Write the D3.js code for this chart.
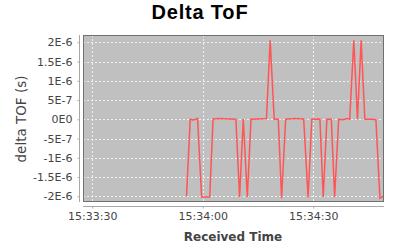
<!DOCTYPE html>
<html>
<head>
<meta charset="utf-8">
<script src="https://cdn.jsdelivr.net/npm/d3@7"></script>
<style>
  body { margin: 0; background: #fff; }
  svg { display: block; }
</style>
</head>
<body>
<svg width="396" height="252"></svg>
<script>
// seconds after 15:34:00 for each sample
const sampleSeconds = [-4.4, -3.4, -2.6, -1.4, -0.3, 1.9, 2.8, 5, 7, 9.0, 10.0, 11.0, 12.1, 13.1, 15, 17.3, 18.3, 19.4, 20.5, 21.4,
    22.5, 25, 27.4, 28.6, 29.6, 31.8, 32.7, 33.7, 34.9, 35.8, 36.9, 37.9, 39.2, 39.9, 41.0, 42.0, 43.0, 44.0, 46, 47.0, 48.1, 49.0];
// delta TOF in seconds
const deltaTof = [-2.0e-6, 0.0, -0.02e-6, 0.02e-6, -2.02e-6, -2.02e-6, 0.01e-6, 0.02e-6, 0.01e-6, 0.0, -2.02e-6, 0.01e-6, -2.02e-6, 0.0, 0.01e-6,
    0.02e-6, 2.05e-6, 0.0, 0.0, -2.05e-6, 0.0, 0.02e-6, 0.01e-6, -2.03e-6, 0.0, 0.01e-6, -2.02e-6, 0.0, 0.0, -2.02e-6,
    0.0, -0.01e-6, 0.02e-6, 0.0, 2.05e-6, 0.0, 2.05e-6, 0.0, 0.0, -0.01e-6, -2.05e-6, -2.0e-6];
const yTickValues = [2e-6, 1.5e-6, 1e-6, 5e-7, 0, -5e-7, -1e-6, -1.5e-6, -2e-6];
const yTickLabels = ["2E-6", "1.5E-6", "1E-6", "5E-7", "0E0", "-5E-7", "-1E-6", "-1.5E-6", "-2E-6"];
const xTickLabels = ["15:33:30", "15:34:00", "15:34:30"];

const base = new Date(2020, 0, 1, 15, 34, 0);
const parseTime = d3.timeParse("%H:%M:%S");
const toDate = (hms) => {
    const t = parseTime(hms);
    return new Date(2020, 0, 1, t.getHours(), t.getMinutes(), t.getSeconds());
};
const data = sampleSeconds.map((s, i) => ({
    time: new Date(base.getTime() + s * 1000),
    value: deltaTof[i],
}));

const plot = { left: 83, right: 384, top: 35, bottom: 202 };
const svg = d3.select("svg");

const x = d3.scaleTime()
    .domain([new Date(base.getTime() - 32500), new Date(base.getTime() + 49200)])
    .range([plot.left, plot.right]);
const y = d3.scaleLinear()
    .domain([-2.148e-6, 2.19e-6])
    .range([plot.bottom, plot.top]);

// title
svg.append("text")
    .attr("x", 200)
    .attr("y", 19)
    .attr("text-anchor", "middle")
    .style("font-family", "'Liberation Sans', Arial, sans-serif")
    .style("font-weight", "bold")
    .style("font-size", "20px")
    .style("letter-spacing", "0.8px")
    .attr("fill", "#000")
    .text("Delta ToF");

// plot background
svg.append("rect")
    .attr("x", plot.left)
    .attr("y", plot.top)
    .attr("width", plot.right - plot.left)
    .attr("height", plot.bottom - plot.top)
    .attr("fill", "#c0c0c0");

// gridlines
const grid = svg.append("g")
    .attr("stroke", "#ffffff")
    .attr("stroke-opacity", 0.75)
    .attr("stroke-dasharray", "2,2");
grid.selectAll(".hgrid")
    .data(yTickValues)
    .join("line")
    .attr("x1", plot.left)
    .attr("x2", plot.right)
    .attr("y1", (d) => Math.round(y(d)) + 0.5)
    .attr("y2", (d) => Math.round(y(d)) + 0.5);
grid.selectAll(".vgrid")
    .data(xTickLabels.map(toDate))
    .join("line")
    .attr("x1", (d) => Math.round(x(d)) + 0.5)
    .attr("x2", (d) => Math.round(x(d)) + 0.5)
    .attr("y1", plot.top)
    .attr("y2", plot.bottom);

// series line
svg.append("clipPath")
    .attr("id", "clip")
    .append("rect")
    .attr("x", plot.left)
    .attr("y", plot.top)
    .attr("width", plot.right - plot.left)
    .attr("height", plot.bottom - plot.top);
const line = d3.line()
    .x((d) => x(d.time))
    .y((d) => y(d.value));
svg.append("path")
    .datum(data)
    .attr("clip-path", "url(#clip)")
    .attr("fill", "none")
    .attr("stroke", "#ff5555")
    .attr("stroke-width", 1.5)
    .attr("stroke-linejoin", "miter")
    .attr("d", line);

// plot border
svg.append("rect")
    .attr("x", plot.left + 0.5)
    .attr("y", plot.top + 0.5)
    .attr("width", plot.right - plot.left - 1)
    .attr("height", plot.bottom - plot.top - 1)
    .attr("fill", "none")
    .attr("stroke", "#707070");

// y axis
const yAxis = d3.axisLeft(y)
    .tickValues(yTickValues)
    .tickFormat((d, i) => yTickLabels[i])
    .tickSizeInner(2)
    .tickSizeOuter(0)
    .tickPadding(5);
const gy = svg.append("g")
    .attr("transform", "translate(79.5,0)")
    .call(yAxis);
gy.select(".domain").attr("stroke", "#a8a8a8").attr("d", `M0,${plot.top}V${plot.bottom}`);
gy.selectAll(".tick line").attr("stroke", "#a8a8a8");
gy.selectAll(".tick text")
    .attr("fill", "#444")
    .style("font-family", "'DejaVu Sans', sans-serif")
    .style("font-size", "11px");

// x axis
const xAxis = d3.axisBottom(x)
    .tickValues(xTickLabels.map(toDate))
    .tickFormat(d3.timeFormat("%H:%M:%S"))
    .tickSizeInner(2)
    .tickSizeOuter(0)
    .tickPadding(4);
const gx = svg.append("g")
    .attr("transform", "translate(0,206.5)")
    .call(xAxis);
gx.select(".domain").attr("stroke", "#a8a8a8").attr("d", `M${plot.left},0H${plot.right}`);
gx.selectAll(".tick line").attr("stroke", "#a8a8a8");
gx.selectAll(".tick text")
    .attr("fill", "#444")
    .style("font-family", "'DejaVu Sans', sans-serif")
    .style("font-size", "11px");

// axis titles
svg.append("text")
    .attr("x", 233)
    .attr("y", 241)
    .attr("text-anchor", "middle")
    .attr("fill", "#444")
    .style("font-family", "'DejaVu Sans', sans-serif")
    .style("font-weight", "bold")
    .style("font-size", "12px")
    .text("Received Time");
svg.append("text")
    .attr("transform", "translate(26,119) rotate(-90)")
    .attr("text-anchor", "middle")
    .attr("fill", "#444")
    .style("font-family", "'DejaVu Sans', sans-serif")
    .style("font-size", "13.5px")
    .text("delta TOF (s)");
</script>
</body>
</html>
